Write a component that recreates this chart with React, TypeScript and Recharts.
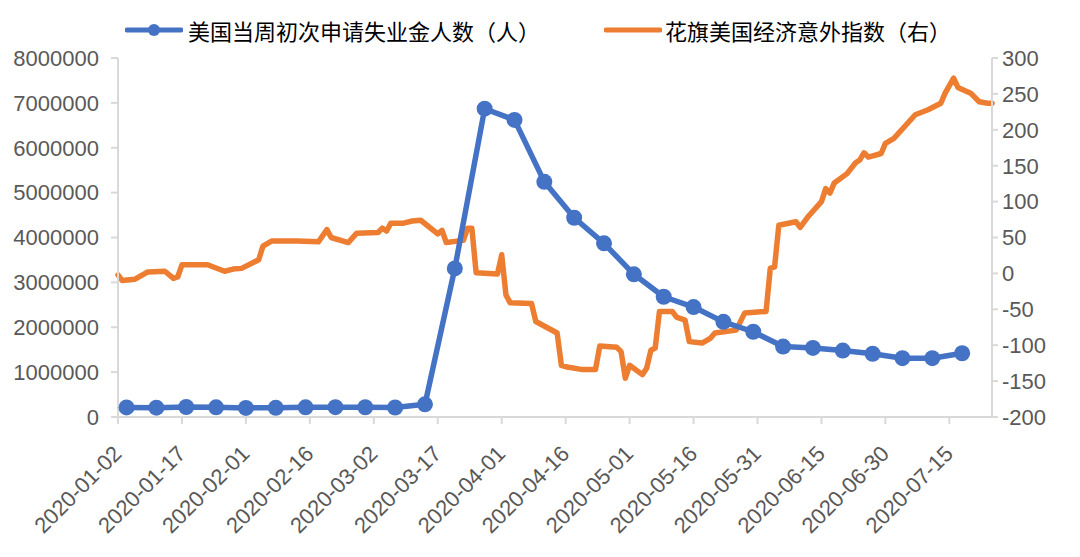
import { LineChart, Line, XAxis, YAxis } from "recharts";

const claimsDates = [
  "2020-01-04", "2020-01-11", "2020-01-18", "2020-01-25", "2020-02-01", "2020-02-08",
  "2020-02-15", "2020-02-22", "2020-02-29", "2020-03-07", "2020-03-14", "2020-03-21",
  "2020-03-28", "2020-04-04", "2020-04-11", "2020-04-18", "2020-04-25", "2020-05-02",
  "2020-05-09", "2020-05-16", "2020-05-23", "2020-05-30", "2020-06-06", "2020-06-13",
  "2020-06-20", "2020-06-27", "2020-07-04", "2020-07-11", "2020-07-18",
];
const claimsValues = [
  214000, 207000, 223000, 216000, 203000, 205000, 215000, 220000, 217000, 211000,
  282000, 3310000, 6870000, 6620000, 5240000, 4440000, 3870000, 3180000, 2680000,
  2450000, 2120000, 1900000, 1570000, 1540000, 1480000, 1410000, 1310000, 1310000,
  1420000,
];

const citiDates = [
  "2020-01-02", "2020-01-03", "2020-01-06", "2020-01-09", "2020-01-13", "2020-01-15",
  "2020-01-16", "2020-01-17", "2020-01-23", "2020-01-27", "2020-01-29", "2020-01-31",
  "2020-02-04", "2020-02-05", "2020-02-07", "2020-02-13", "2020-02-18", "2020-02-20",
  "2020-02-21", "2020-02-25", "2020-02-27", "2020-03-03", "2020-03-04", "2020-03-05",
  "2020-03-06", "2020-03-09", "2020-03-11", "2020-03-13", "2020-03-17", "2020-03-18",
  "2020-03-19", "2020-03-23", "2020-03-24", "2020-03-25", "2020-03-26", "2020-03-31",
  "2020-04-01", "2020-04-02", "2020-04-03", "2020-04-08", "2020-04-09", "2020-04-14",
  "2020-04-15", "2020-04-16", "2020-04-20", "2020-04-23", "2020-04-24", "2020-04-28",
  "2020-04-29", "2020-04-30", "2020-05-01", "2020-05-04", "2020-05-05", "2020-05-06",
  "2020-05-07", "2020-05-08", "2020-05-11", "2020-05-12", "2020-05-14", "2020-05-15",
  "2020-05-18", "2020-05-20", "2020-05-21", "2020-05-26", "2020-05-28", "2020-06-02",
  "2020-06-03", "2020-06-04", "2020-06-05", "2020-06-09", "2020-06-10", "2020-06-12",
  "2020-06-15", "2020-06-16", "2020-06-17", "2020-06-18", "2020-06-21", "2020-06-23",
  "2020-06-24", "2020-06-25", "2020-06-26", "2020-06-29", "2020-06-30", "2020-07-02",
  "2020-07-07", "2020-07-10", "2020-07-13", "2020-07-14", "2020-07-16", "2020-07-17",
  "2020-07-20", "2020-07-22", "2020-07-24", "2020-07-25",
];
const citiValues = [
  -2, -10, -8, 2, 3, -7, -5, 12, 12, 3, 6, 7,
  19, 38, 45, 45, 44, 61, 50, 43, 56, 57, 63, 59,
  70, 70, 73, 74, 55, 60, 43, 46, 63, 63, 1, -1,
  26, -30, -41, -42, -67, -83, -128, -130, -134, -134, -101, -103,
  -109, -146, -128, -141, -132, -107, -104, -53, -53, -61, -65, -95,
  -97, -90, -83, -79, -55, -53, 7, 9, 67, 72, 64, 80,
  100, 118, 112, 126, 139, 154, 158, 168, 162, 167, 181, 188,
  221, 228, 237, 251, 272, 259, 251, 239, 237, 237,
];

const startDate = "2020-01-02";
const dayTicks = [0, 15, 30, 45, 60, 75, 90, 105, 120, 135, 150, 165, 180, 195];
const leftTicks = [0, 1000000, 2000000, 3000000, 4000000, 5000000, 6000000, 7000000, 8000000];
const rightTicks = [-200, -150, -100, -50, 0, 50, 100, 150, 200, 250, 300];

const DAY = 86400000;
const t0 = Date.parse(startDate);
const toDay = (s: string) => Math.round((Date.parse(s) - t0) / DAY);
const dayLabel = (d: number) => new Date(t0 + d * DAY).toISOString().slice(0, 10);

const claimsData = claimsDates.map((d, i) => ({ day: toDay(d), value: claimsValues[i] }));
const citiData = citiDates.map((d, i) => ({ day: toDay(d), value: citiValues[i] }));

const FONT = "'Liberation Sans', 'Noto Sans CJK SC', sans-serif";
const BLUE = "#4472C4";
const ORANGE = "#ED7D31";
const AXIS = "#d9d9d9";
const TEXT = "#595959";

function DateTick(props: any) {
  const { x, y, payload } = props;
  const ax = x + 5;
  const ay = y + 31;
  return (
    <text
      x={ax}
      y={ay}
      transform={`rotate(-45, ${ax}, ${ay})`}
      textAnchor="end"
      fontSize={22}
      fill={TEXT}
      fontFamily={FONT}
    >
      {dayLabel(payload.value)}
    </text>
  );
}

function LegendBox() {
  const item = { position: "absolute" as const, top: 14, display: "flex", alignItems: "center", fontSize: 22, color: "#000", fontFamily: FONT, whiteSpace: "nowrap" as const };
  return (
    <>
      <div style={{ ...item, left: 125 }}>
        <svg width={58} height={20}>
          <line x1={2} y1={10} x2={56} y2={10} stroke={BLUE} strokeWidth={5} strokeLinecap="round" />
          <circle cx={29} cy={10} r={6} fill={BLUE} />
        </svg>
        <span style={{ marginLeft: 5 }}>美国当周初次申请失业金人数（人）</span>
      </div>
      <div style={{ ...item, left: 604 }}>
        <svg width={58} height={20}>
          <line x1={2} y1={10} x2={56} y2={10} stroke={ORANGE} strokeWidth={5} strokeLinecap="round" />
        </svg>
        <span style={{ marginLeft: 3 }}>花旗美国经济意外指数（右）</span>
      </div>
    </>
  );
}

export default function App() {
  return (
    <div style={{ position: "absolute", left: 0, top: 0, width: 1080, height: 557, background: "#fff" }}>
      <LegendBox />
      <LineChart width={1080} height={557} margin={{ top: 58, right: 0, bottom: 0, left: 0 }}>
        <XAxis
          dataKey="day"
          type="number"
          domain={[0, 205]}
          ticks={dayTicks}
          interval={0}
          height={140}
          stroke={AXIS}
          strokeWidth={2}
          tickSize={7}
          tickMargin={0}
          tick={<DateTick />}
          allowDuplicatedCategory={false}
        />
        <YAxis
          yAxisId="left"
          domain={[0, 8000000]}
          ticks={leftTicks}
          interval={0}
          width={118}
          stroke={AXIS}
          strokeWidth={2}
          tickSize={7}
          tickMargin={12}
          tick={{ fill: TEXT, fontSize: 22, fontFamily: FONT }}
        />
        <YAxis
          yAxisId="right"
          orientation="right"
          domain={[-200, 300]}
          ticks={rightTicks}
          interval={0}
          width={88}
          stroke={AXIS}
          strokeWidth={2}
          tickSize={6}
          tickMargin={4}
          tick={{ fill: TEXT, fontSize: 22, fontFamily: FONT }}
        />
        <Line
          yAxisId="right"
          data={citiData}
          dataKey="value"
          type="linear"
          stroke={ORANGE}
          strokeWidth={5.5}
          strokeLinejoin="round"
          strokeLinecap="round"
          dot={false}
          isAnimationActive={false}
        />
        <Line
          yAxisId="left"
          data={claimsData}
          dataKey="value"
          type="linear"
          stroke={BLUE}
          strokeWidth={5.5}
          strokeLinejoin="round"
          strokeLinecap="round"
          dot={{ r: 8, fill: BLUE, stroke: BLUE, strokeWidth: 0 }}
          isAnimationActive={false}
        />
      </LineChart>
    </div>
  );
}
